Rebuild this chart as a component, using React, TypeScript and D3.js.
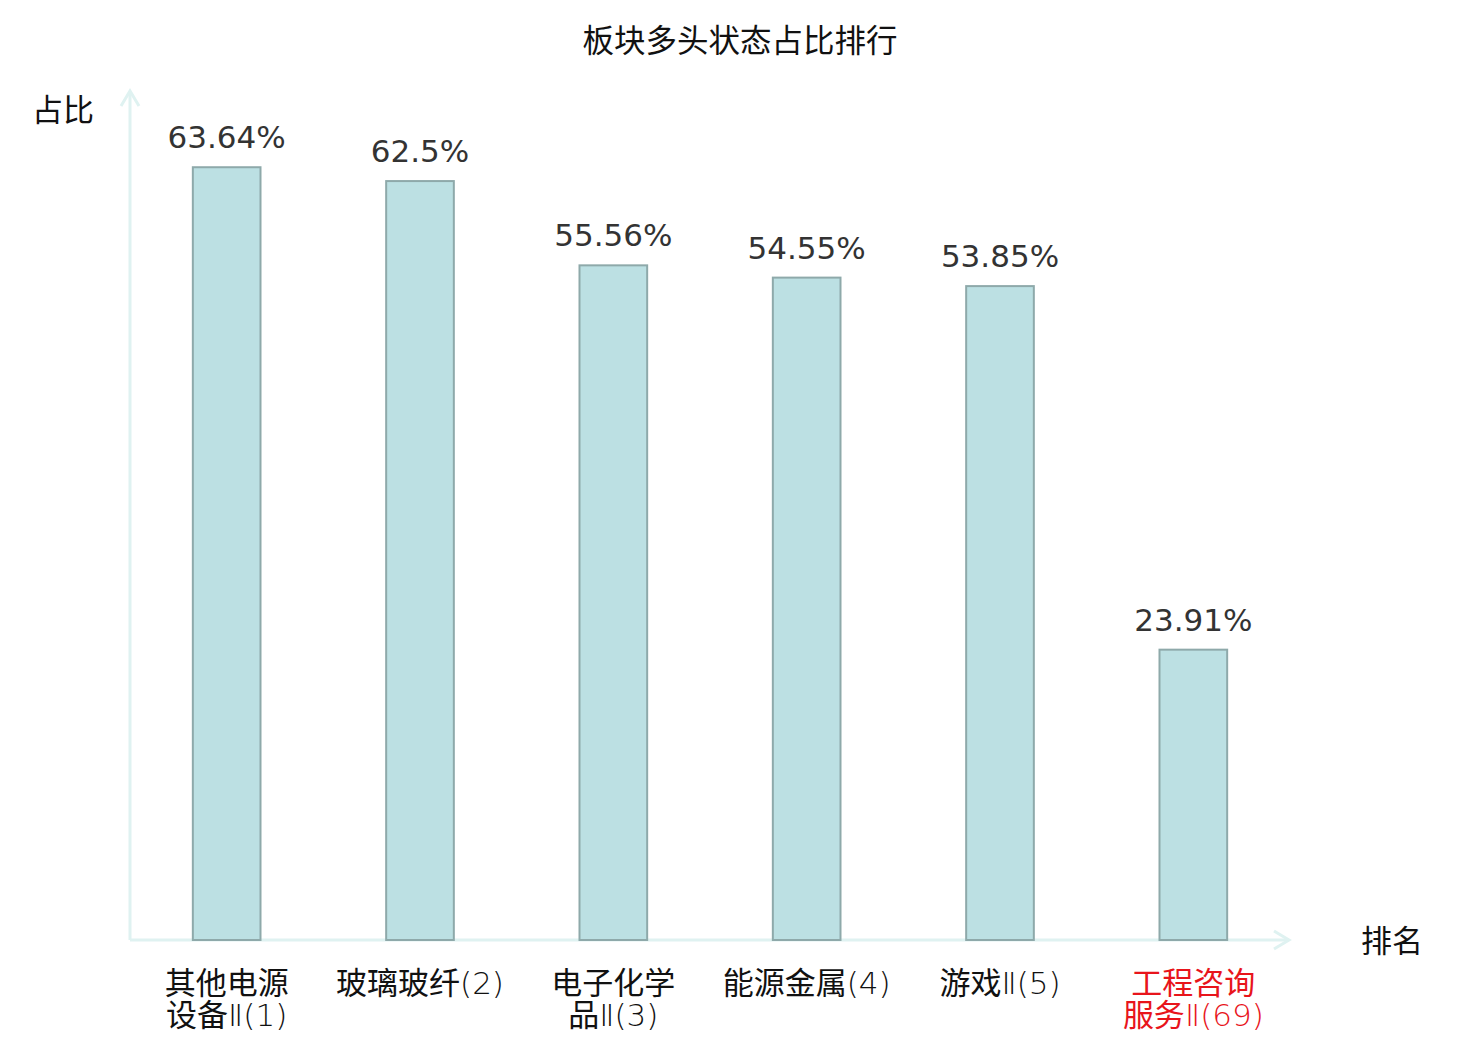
import React from "react";
import * as d3 from "d3";

const categories: string[][] = [
  ["其他电源", "设备Ⅱ(1)"],
  ["玻璃玻纤(2)"],
  ["电子化学", "品Ⅱ(3)"],
  ["能源金属(4)"],
  ["游戏Ⅱ(5)"],
  ["工程咨询", "服务Ⅱ(69)"],
];
const values: number[] = [63.64, 62.5, 55.56, 54.55, 53.85, 23.91];
const labels: string[] = ["63.64%", "62.5%", "55.56%", "54.55%", "53.85%", "23.91%"];
const highlighted: boolean[] = [false, false, false, false, false, true];

const W = 1480;
const H = 1040;
const x0 = 130;
const x1 = 1290;
const yBase = 940;
const yTop = 90;

const CJK = "'Noto Sans CJK SC', 'Noto Sans', sans-serif";
const NUM = "'DejaVu Sans', sans-serif";
const THIN = "'DejaVu Sans', 'Noto Sans CJK SC', sans-serif";

function splitLatin(s: string): [string, string] {
  const m = s.match(/^([^\u2161()0-9]*)(.*)$/);
  return m ? [m[1], m[2]] : [s, ""];
}

export default function App() {
  const x = d3
    .scaleBand<number>()
    .domain(d3.range(values.length))
    .range([x0, x1])
    .paddingInner(0.65)
    .paddingOuter(0.325);
  const y = d3.scaleLinear().domain([0, 70]).range([yBase, yTop]);
  const axisColor = "#dff2f1";

  return (
    <svg
      width={W}
      height={H}
      style={{ position: "absolute", left: 0, top: 0, background: "#fff" }}
    >
      <text x={740} y={52} textAnchor="middle" fontFamily={CJK} fontSize={31.5} fill="#111">
        板块多头状态占比排行
      </text>
      <text x={63} y={121} textAnchor="middle" fontFamily={CJK} fontSize={31} fill="#111">
        占比
      </text>
      <text x={1392} y={952} textAnchor="middle" fontFamily={CJK} fontSize={31} fill="#111">
        排名
      </text>

      {/* axes */}
      <line x1={x0} y1={yBase} x2={x0} y2={yTop + 2} stroke={axisColor} strokeWidth={3} />
      <polyline
        points={`${x0 - 9},${yTop + 16} ${x0},${yTop + 1} ${x0 + 9},${yTop + 16}`}
        fill="none"
        stroke={axisColor}
        strokeWidth={3}
      />
      <line x1={x0} y1={yBase} x2={x1 - 2} y2={yBase} stroke={axisColor} strokeWidth={3} />
      <polyline
        points={`${x1 - 16},${yBase - 9} ${x1 - 1},${yBase} ${x1 - 16},${yBase + 9}`}
        fill="none"
        stroke={axisColor}
        strokeWidth={3}
      />

      {values.map((v, i) => {
        const bx = x(i)!;
        const bw = x.bandwidth();
        const cx = bx + bw / 2;
        return (
          <g key={i}>
            <rect
              x={bx}
              y={y(v)}
              width={bw}
              height={yBase - y(v)}
              fill="#bce0e3"
              stroke="#8ea9aa"
              strokeWidth={2}
            />
            <text
              x={cx}
              y={y(v) - 19}
              textAnchor="middle"
              fontFamily={NUM}
              fontSize={31}
              fill="#333"
            >
              {labels[i]}
            </text>
            {categories[i].map((line, j) => {
              const [a, b] = splitLatin(line);
              return (
                <text
                  key={j}
                  x={cx}
                  y={994 + j * 32}
                  textAnchor="middle"
                  fontFamily={CJK}
                  fontSize={31}
                  fill={highlighted[i] ? "#e8141b" : "#111"}
                >
                  <tspan>{a}</tspan>
                  {b && (
                    <tspan fontFamily={THIN} fontWeight={200}>
                      {b}
                    </tspan>
                  )}
                </text>
              );
            })}
          </g>
        );
      })}
    </svg>
  );
}
